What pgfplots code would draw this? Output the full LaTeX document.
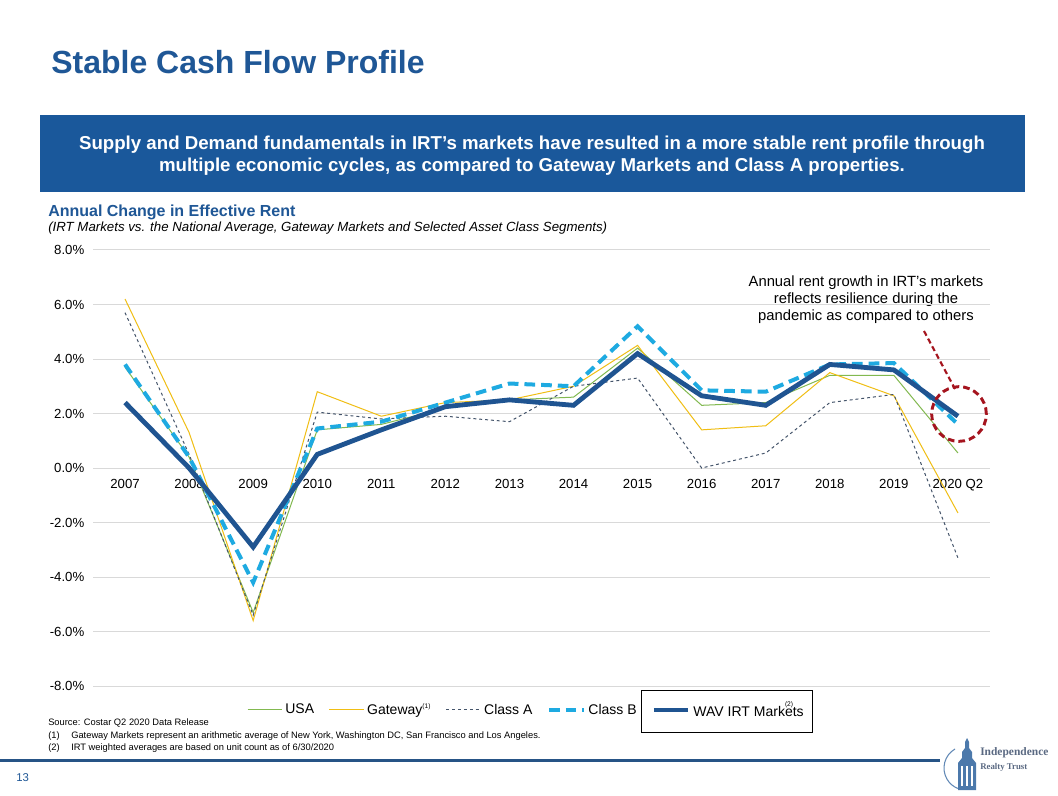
\documentclass[border=0pt]{standalone}
\usepackage{fontspec}
\setmainfont{Liberation Sans}
\newfontfamily\seriffont{Liberation Serif}
\usepackage{pgfplots}
\pgfplotsset{compat=1.18}
\definecolor{titleblue}{RGB}{31,87,150}
\definecolor{boxblue}{RGB}{26,88,155}
\definecolor{wavblue}{RGB}{31,84,145}
\definecolor{classb}{RGB}{30,170,225}
\definecolor{usagreen}{RGB}{130,185,80}
\definecolor{gateyellow}{RGB}{240,190,20}
\definecolor{classa}{RGB}{68,84,106}
\definecolor{gridgray}{RGB}{217,217,217}
\definecolor{annred}{RGB}{165,20,30}
\definecolor{rulecol}{RGB}{38,84,134}
\definecolor{logogray}{RGB}{90,105,130}

\pgfplotstableread{
x usa gate classa classb wav
0 3.7 6.2 5.7 3.8 2.4
1 0.4 1.3 0.5 0.4 0.0
2 -5.3 -5.6 -5.4 -4.2 -2.9
3 1.4 2.8 2.05 1.45 0.5
4 1.6 1.9 1.8 1.7 1.4
5 2.2 2.4 1.9 2.4 2.25
6 2.5 2.5 1.7 3.1 2.5
7 2.6 3.0 3.0 3.0 2.3
8 4.4 4.5 3.3 5.2 4.2
9 2.3 1.4 0.0 2.85 2.65
10 2.4 1.55 0.55 2.8 2.3
11 3.4 3.5 2.4 3.8 3.8
12 3.4 2.65 2.7 3.85 3.6
13 0.55 -1.65 -3.3 1.6 1.9
}\rent

\begin{document}
\begin{tikzpicture}
\path[fill=white,use as bounding box] (0,0) rectangle (793.5pt,-597pt);
\begin{scope}[x=0.75pt,y=-0.75pt]
\node[anchor=west,text=titleblue,font=\fontsize{24}{28}\selectfont\bfseries,inner sep=0] at (51,62) {Stable Cash Flow Profile};
\fill[boxblue] (40,115) rectangle (1025,192);
\node[align=center,text=white,font=\fontsize{14}{16.5}\selectfont\bfseries,inner sep=0] at (532,156) {Supply and Demand fundamentals in IRT’s markets have resulted in a more stable rent profile through\\multiple economic cycles, as compared to Gateway Markets and Class A properties.};
\node[anchor=west,inner sep=0,text=titleblue,font=\fontsize{12}{14}\selectfont\bfseries] at (48,212) {Annual Change in Effective Rent};
\node[anchor=west,inner sep=0,font=\fontsize{9.95}{11}\selectfont\itshape] at (48,228) {(IRT Markets vs. the National Average, Gateway Markets and Selected Asset Class Segments)};
\node[align=center,inner sep=0,font=\fontsize{11.1}{12.75}\selectfont] at (866,300) {Annual rent growth in IRT’s markets\\reflects resilience during the\\pandemic as compared to others};
% footnotes
\node[anchor=west,inner sep=0,font=\fontsize{7}{8}\selectfont] at (48,723) {Source: Costar Q2 2020 Data Release};
\node[anchor=west,inner sep=0,font=\fontsize{7}{8}\selectfont] at (48,736) {(1)};
\node[anchor=west,inner sep=0,font=\fontsize{7}{8}\selectfont] at (71,736) {Gateway Markets represent an arithmetic average of New York, Washington DC, San Francisco and Los Angeles.};
\node[anchor=west,inner sep=0,font=\fontsize{7}{8}\selectfont] at (48,748) {(2)};
\node[anchor=west,inner sep=0,font=\fontsize{7}{8}\selectfont] at (71,748) {IRT weighted averages are based on unit count as of 6/30/2020};
\fill[rulecol] (0,758.5) rectangle (940,761.5);
\node[anchor=west,inner sep=0,text=titleblue,font=\fontsize{8.5}{10}\selectfont] at (16,778) {13};
% legend selection box
\draw[black,line width=0.6pt] (641,690) rectangle (812,732);
% logo
\draw[titleblue!70,line width=0.8pt] (955,749) arc[start angle=-120,end angle=-250,radius=22];
\fill[titleblue!80] (958,790) -- (958,763) -- (962,758) -- (962,752) -- (965,748) -- (965,742) -- (967,738) -- (969,742) -- (969,748) -- (972,752) -- (972,758) -- (976,763) -- (976,790) -- cycle;
\fill[white] (961,766) rectangle (963,786);
\fill[white] (966,766) rectangle (968,786);
\fill[white] (971,766) rectangle (973,786);
\node[anchor=west,inner sep=0,text=logogray,font=\seriffont\bfseries\fontsize{8.6}{10}\selectfont] at (980,753) {Independence};
\node[anchor=west,inner sep=0,text=logogray,font=\seriffont\bfseries\fontsize{6.6}{8}\selectfont] at (980,767) {Realty Trust};
\end{scope}
\begin{axis}[
  at={(69.75pt,-514.5pt)}, anchor=south west,
  scale only axis, width=672.75pt, height=327pt,
  xmin=-0.5, xmax=13.5, ymin=-8, ymax=8,
  axis x line=middle, axis y line=left,
  x axis line style={draw=none}, y axis line style={draw=none},
  xtick={0,...,13},
  xticklabels={2007,2008,2009,2010,2011,2012,2013,2014,2015,2016,2017,2018,2019,2020 Q2},
  ytick={-8,-6,...,8},
  yticklabel={\pgfmathprintnumber[fixed,fixed zerofill,precision=1]{\tick}\%},
  /pgf/number format/assume math mode=true,
  major tick length=0pt,
  ymajorgrids, grid style={gridgray,line width=0.75pt},
  tick label style={font=\fontsize{9.9}{11}\selectfont},
  xticklabel style={yshift=-5pt},
  yticklabel style={xshift=-3pt},
  legend style={at={(0.4835,-0.055)},anchor=center,draw=none,fill=none,
    font=\fontsize{10.5}{12}\selectfont,
    nodes={inner xsep=2pt},
    /tikz/every even column/.append style={column sep=9pt},
    /tikz/every odd column/.append style={column sep=0pt}},
  legend columns=5,
  legend image code/.code={\draw[#1] (0pt,0pt) -- (26pt,0pt);},
]
\addplot[usagreen,line width=0.75pt] table[x=x,y=usa]{\rent};
\addlegendentry{USA}
\addplot[gateyellow,line width=0.75pt] table[x=x,y=gate]{\rent};
\addlegendentry{Gateway\textsuperscript{\fontsize{5}{6}\selectfont(1)}}
\addplot[classa,line width=0.75pt,dash pattern=on 2.2pt off 2.2pt] table[x=x,y=classa]{\rent};
\addlegendentry{Class A}
\addplot[classb,line width=3pt,dash pattern=on 8pt off 4.5pt] table[x=x,y=classb]{\rent};
\addlegendentry{Class B}
\addplot[wavblue,line width=3.6pt] table[x=x,y=wav]{\rent};
\addlegendentry{WAV IRT Mark\makebox[0pt][l]{\raisebox{1.3ex}{\fontsize{5}{6}\selectfont(2)}}ets}
\end{axis}
\begin{scope}[x=0.75pt,y=-0.75pt]
\draw[annred,line width=2.2pt,dash pattern=on 5pt off 3pt] (959,414) circle[radius=20.5pt];
\draw[annred,line width=1.6pt,dash pattern=on 4pt off 2.5pt] (924,331) -- (955,389);
\end{scope}
\end{tikzpicture}
\end{document}
